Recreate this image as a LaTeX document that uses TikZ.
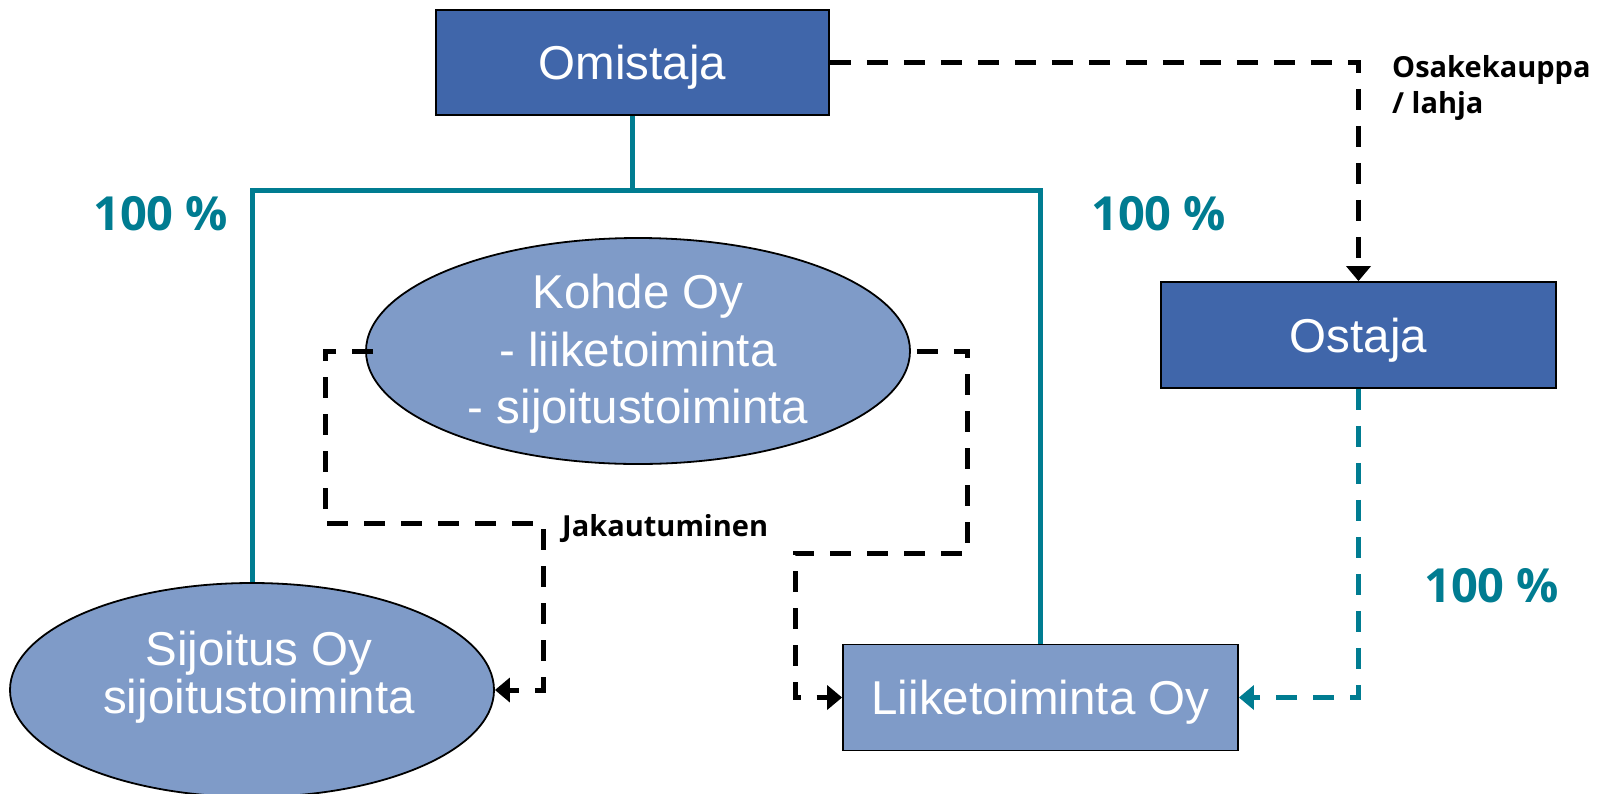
\documentclass[tikz,border=0pt]{standalone}
\usepackage{fontspec}
\setmainfont{Liberation Sans}
\newfontfamily\lblfont{Open Sans}
\usetikzlibrary{arrows.meta,shapes.geometric}
\definecolor{boxdark}{RGB}{64,102,170}
\definecolor{boxlight}{RGB}{127,155,200}
\definecolor{owntea}{RGB}{0,124,145}
\begin{document}
\begin{tikzpicture}[x=1pt,y=-1pt,
  unit/.style={draw=black,line width=1.8pt,text=white,inner sep=0pt,
    font=\fontsize{47.5}{56}\selectfont,text height=34pt,text depth=0pt},
  company/.style={unit,rectangle,minimum width=395pt,minimum height=106pt},
  firm/.style={unit,ellipse,fill=boxlight},
  owner/.style={company,fill=boxdark},
  sub/.style={company,fill=boxlight},
  share/.style={owntea,line width=5pt},
  flow/.style={black,line width=5pt,dash pattern=on 21pt off 16pt,
    -{Triangle[length=15pt,width=24pt]}},
  tflow/.style={flow,owntea},
  pct/.style={text=owntea,inner sep=0pt,anchor=base west,
    font=\lblfont\bfseries\fontsize{47}{56}\selectfont},
  note/.style={text=black,inner sep=0pt,align=left,
    font=\lblfont\bfseries\fontsize{29}{36}\selectfont}
]
\useasboundingbox (0,0) rectangle (1608,793);

% companies
\node[owner,minimum width=393pt,minimum height=105pt] (om) at (632.5,62.5) {Omistaja};
\node[owner] (os) at (1358.5,335) {Ostaja};
\node[sub] (li) at (1040.5,697.5) {Liiketoiminta Oy};
\node[firm,minimum width=544pt,minimum height=226pt] (ko) at (638,351) {};
\node[text=white,inner sep=0pt,align=center,font=\fontsize{47.5}{57.5}\selectfont]
  (kotext) at (638,354) {Kohde Oy\\- liiketoiminta\\- sijoitustoiminta};
\node[firm,minimum width=484pt,minimum height=214pt] (si) at (252,690) {};
\node[text=white,inner sep=0pt,align=center,font=\fontsize{47.5}{48}\selectfont]
  (sitext) at (259,677) {Sijoitus Oy\\sijoitustoiminta};

% ownership lines
\coordinate (bar) at (632.5,190);
\draw[share] (om.south) -- (bar);
\draw[share] (si.north) |- (bar) -| (li.north);
\draw[tflow] (os.south) |- (li.east);

% share transfer
\draw[flow] (om.east) -| (os.north);

% demerger
\coordinate (jl) at (543,523);
\coordinate (jr) at (795,553);
\draw[flow] ([xshift=8pt]ko.west) -- ++(-48,0) |- (jl) |- (si.east);
\draw[flow] ([xshift=6pt]ko.east) -- ++(51,0) |- (jr) |- (li.west);

% labels
\node[pct] (p1) at (93,230) {100 \%};
\node[pct] (p2) at (1091,230) {100 \%};
\node[pct] (p3) at (1424,602) {100 \%};
\node[note,anchor=base west] (deal) at (1392,113) {Osakekauppa\\/ lahja};
\node[note,anchor=base west] (split) at (562,536) {Jakautuminen};
\end{tikzpicture}
\end{document}
